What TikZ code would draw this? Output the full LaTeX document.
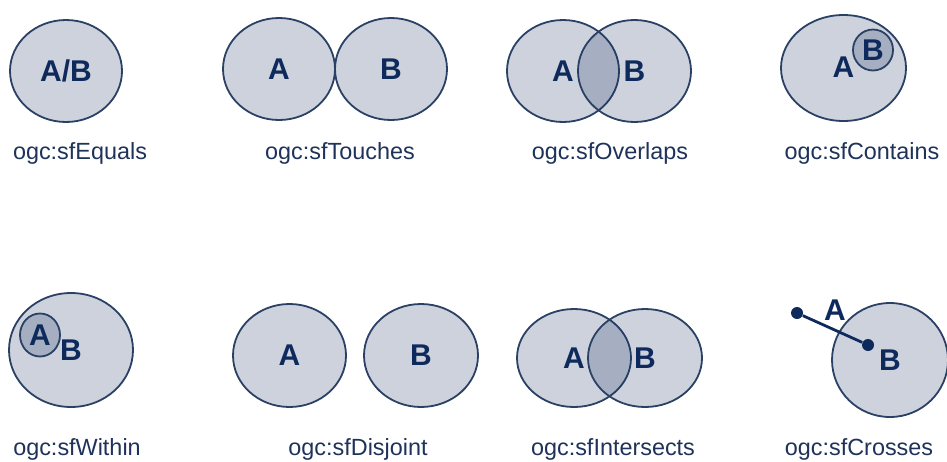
\documentclass[tikz,border=0pt]{standalone}
\usepackage{fontspec}
\setmainfont{Liberation Sans}
\usepackage{tikz}
\usetikzlibrary{shapes.geometric}
\definecolor{ogcnavy}{RGB}{28, 52, 98}
\definecolor{ogcink}{RGB}{14, 42, 92}
\definecolor{ogcrim}{RGB}{42, 64, 100}
\definecolor{ogccap}{RGB}{30, 50, 90}

\begin{document}
\begin{tikzpicture}[x=0.5pt, y=-0.5pt,
  geom/.style={ellipse, draw=ogcrim, line width=0.9pt, fill=ogcnavy, fill opacity=0.22,
    text opacity=1, text=ogcink, inner sep=0pt, font=\bfseries\fontsize{15}{15}\selectfont},
  relname/.style={text=ogccap, font=\fontsize{11.7}{14}\selectfont},
  endpt/.style={circle, fill=ogcink, inner sep=0pt, minimum size=6pt}]
\useasboundingbox (0,0) rectangle (947,461);

% Row 1: equals, touches, overlaps, contains
\node[geom, minimum width=56pt, minimum height=51pt] (eqAB) at (66,71) {A/B};
\node[relname] (eqname) at (80,153) {ogc:sfEquals};

\node[geom, minimum width=56pt, minimum height=51pt] (touA) at (279,69) {A};
\node[geom, minimum width=56pt, minimum height=51pt] (touB) at (391,69) {B};
\node[relname] (touname) at (340,153) {ogc:sfTouches};

\node[geom, minimum width=56pt, minimum height=51pt] (ovA) at (563,71) {A};
\node[geom, minimum width=56.5pt, minimum height=51pt] (ovB) at (634.5,71) {B};
\node[relname] (ovname) at (610,153) {ogc:sfOverlaps};

\node[geom, minimum width=62.5pt, minimum height=53pt] (conA) at (843.5,68) {\raisebox{1pt}{A}};
\node[geom, minimum width=20pt, minimum height=20.5pt] (conB) at (873,50) {B};
\node[relname] (conname) at (862,153) {ogc:sfContains};

% Row 2: within, disjoint, intersects, crosses
\node[geom, minimum width=62pt, minimum height=57pt] (witB) at (71,350) {\raisebox{-1pt}{B}};
\node[geom, minimum width=20pt, minimum height=21.5pt] (witA) at (40,335) {A};
\node[relname] (witname) at (77,449) {ogc:sfWithin};

\node[geom, minimum width=56.5pt, minimum height=51.5pt] (disA) at (289.5,355.5) {A};
\node[geom, minimum width=57pt, minimum height=51.5pt] (disB) at (421,355.5) {B};
\node[relname] (disname) at (358,449) {ogc:sfDisjoint};

\node[geom, minimum width=57pt, minimum height=49pt] (intA) at (574,358) {A};
\node[geom, minimum width=57pt, minimum height=49pt] (intB) at (645,358) {B};
\node[relname] (intname) at (613,449) {ogc:sfIntersects};

\node[geom, minimum width=58pt, minimum height=57pt] (crB) at (890,360) {\raisebox{-1pt}{B}};
\node[endpt] (crS) at (797,313) {};
\node[endpt] (crE) at (868,345) {};
\draw[ogcink, line width=1.4pt] (crS) -- (crE);
\node[text=ogcink, font=\bfseries\fontsize{15}{15}\selectfont] (crA) at (835,310) {A};
\node[relname] (crname) at (859,449) {ogc:sfCrosses};
\end{tikzpicture}
\end{document}
